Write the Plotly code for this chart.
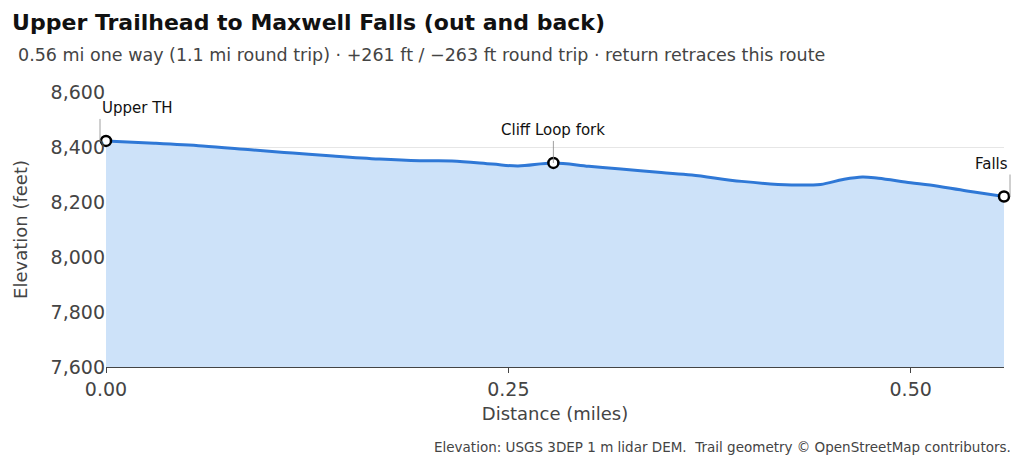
import plotly.graph_objects as go

dist = [0.0, 0.03, 0.06, 0.09, 0.116, 0.141, 0.17, 0.195, 0.215, 0.24, 0.256, 0.278, 0.30, 0.32, 0.345, 0.364, 0.395, 0.426, 0.444, 0.458, 0.470, 0.48, 0.50, 0.512, 0.535, 0.558]
elev = [8422, 8414, 8404, 8390, 8378, 8367, 8356, 8350, 8349, 8338, 8331, 8342, 8330, 8320, 8307, 8298, 8275, 8262, 8264, 8282, 8291, 8286, 8270, 8262, 8240, 8220]
wp_dist = [0.0, 0.278, 0.558]
wp_elev = [8422, 8342, 8220]
wp_names = ["Upper TH", "Cliff Loop fork", "Falls"]
xticks = [0.0, 0.25, 0.5]
xtick_labels = ["0.00", "0.25", "0.50"]
yticks = [7600, 7800, 8000, 8200, 8400, 8600]

F = "DejaVu Sans"
fig = go.Figure()
fig.add_trace(go.Scatter(x=dist, y=elev, mode="lines", line=dict(color="#2f78d6", width=3, shape="spline"),
                         fill="tozeroy", fillcolor="#cde2f9", hoverinfo="skip"))
fig.add_trace(go.Scatter(x=wp_dist, y=wp_elev, mode="markers",
                         marker=dict(color="white", size=10, line=dict(color="black", width=2.5)), cliponaxis=False))
for d, e, n, xa in zip(wp_dist, wp_elev, wp_names, ["left", "center", "right"]):
    fig.add_annotation(x=d, y=e, text=n, showarrow=True, arrowhead=0, arrowwidth=0.8, arrowcolor="#888",
                       ax=0, ay=-22, xanchor=xa, yanchor="bottom", font=dict(family=F, size=15, color="#111"),
                       xshift=-6 if xa == "left" else (6 if xa == "right" else 0))
fig.update_layout(
    width=1024, height=461, showlegend=False, plot_bgcolor="white", paper_bgcolor="white",
    margin=dict(l=94, r=28, t=84, b=102),
    font=dict(family=F, size=15, color="#444"),
    title=dict(text="<b>Upper Trailhead to Maxwell Falls (out and back)</b>", x=0.004, xanchor="left", y=0.970, yanchor="middle",
               font=dict(family=F, size=22, color="#111")),
    xaxis=dict(range=[0, 0.558], tickvals=xticks, ticktext=xtick_labels, showgrid=False, zeroline=False,
               showline=True, linecolor="#444", ticks="outside", ticklen=5, tickcolor="#444",
               tickfont=dict(size=19, color="#444"),
               title=dict(text="Distance (miles)", font=dict(size=18, color="#444"), standoff=8)),
    yaxis=dict(range=[7600, 8600], tickvals=yticks, tickformat=",", showgrid=True, gridcolor="#e6e6e6",
               zeroline=False, tickfont=dict(size=19, color="#444"),
               title=dict(text="Elevation (feet)", font=dict(size=18, color="#444"), standoff=18)),
)
fig.add_annotation(xref="paper", yref="paper", x=-0.0998, y=1.135, xanchor="left", yanchor="middle", showarrow=False,
                   text="0.56 mi one way (1.1 mi round trip) · +261 ft / −263 ft round trip · return retraces this route",
                   font=dict(family=F, size=17.5, color="#444"))
fig.add_annotation(xref="paper", yref="paper", x=1.010, y=-0.291, xanchor="right", yanchor="middle", showarrow=False,
                   text="Elevation: USGS 3DEP 1 m lidar DEM.  Trail geometry © OpenStreetMap contributors.",
                   font=dict(family=F, size=13.5, color="#444"))
fig.write_html("out.html")
